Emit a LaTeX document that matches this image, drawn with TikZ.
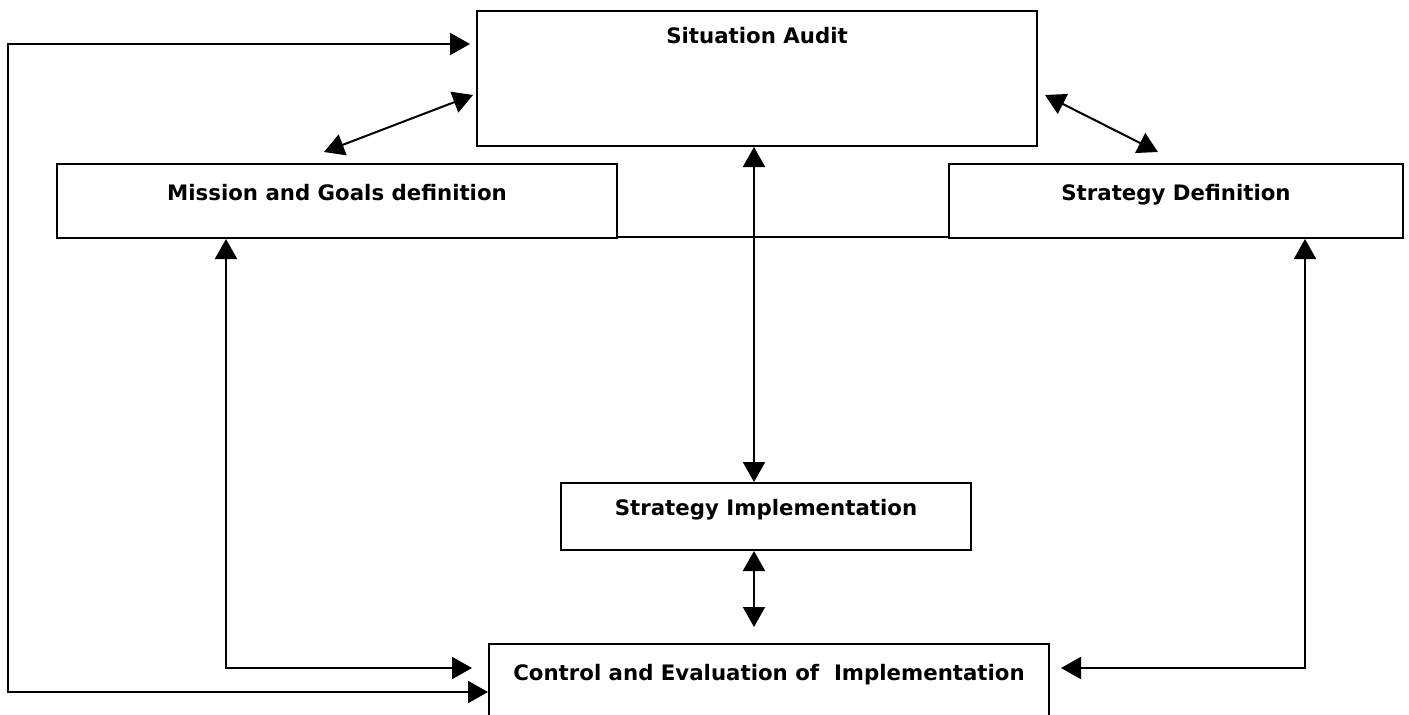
\documentclass[tikz,border=0pt]{standalone}
\usepackage{fontspec}
\setmainfont{DejaVu Sans}
\usetikzlibrary{arrows.meta}
\tikzset{
    x=1pt, y=-1pt, font=\fontsize{21.3}{25}\selectfont\bfseries,
    stage/.style={draw, line width=2pt, inner xsep=0pt, inner ysep=0pt,
                  anchor=north},
    link/.style={{Triangle[length=20pt, width=22pt]}-{Triangle[length=20pt, width=22pt]},
                 line width=2pt},
    seam/.style={line width=2pt},
}

\begin{document}
\begin{tikzpicture}
    \useasboundingbox (0,0) rectangle (1409,715);

    \node[stage, minimum width=560pt, text height=32pt, text depth=103pt]
        (audit) at (757,10) {Situation Audit};
    \node[stage, minimum width=560pt, text height=36pt, text depth=38pt]
        (mission) at (337,163) {Mission and Goals definition};
    \node[stage, minimum width=454pt, text height=36pt, text depth=38pt]
        (stratdef) at (1176,163) {Strategy Definition};
    \node[stage, minimum width=410pt, text height=32pt, text depth=35pt]
        (impl) at (766,482) {Strategy Implementation};
    \node[stage, minimum width=560pt, text height=36pt, text depth=60pt]
        (control) at (769,643) {Control and Evaluation of\ \ Implementation};

    \coordinate (spine) at ([xshift=-3pt]audit.south);
    \coordinate (implend) at (754,627);

    % the audit talks to every other stage
    \draw[link] ([xshift=-3pt,yshift=52pt]audit.south west)
        -- ([xshift=-13pt,yshift=11pt]mission.north);
    \draw[link] ([xshift=7pt,yshift=52pt]audit.south east)
        -- ([xshift=-18pt,yshift=11pt]stratdef.north);
    \draw[link] (spine) -- (spine |- impl.north);
    \draw[link] (spine |- impl.south) -- (implend);

    % feedback loops into control
    \draw[link] ([xshift=-6pt,yshift=-34pt]audit.north west) -- ++(-462,0)
        |- ([yshift=-49pt]control.north west);
    \draw[link] ([xshift=-111pt]mission.south)
        |- ([xshift=-16pt,yshift=-25pt]control.north west);
    \draw[link] ([xshift=129pt]stratdef.south)
        |- ([xshift=11pt,yshift=-25pt]control.north east);

    \draw[seam] ([yshift=2pt]mission.south east) -- ([yshift=2pt]stratdef.south west);
\end{tikzpicture}
\end{document}
